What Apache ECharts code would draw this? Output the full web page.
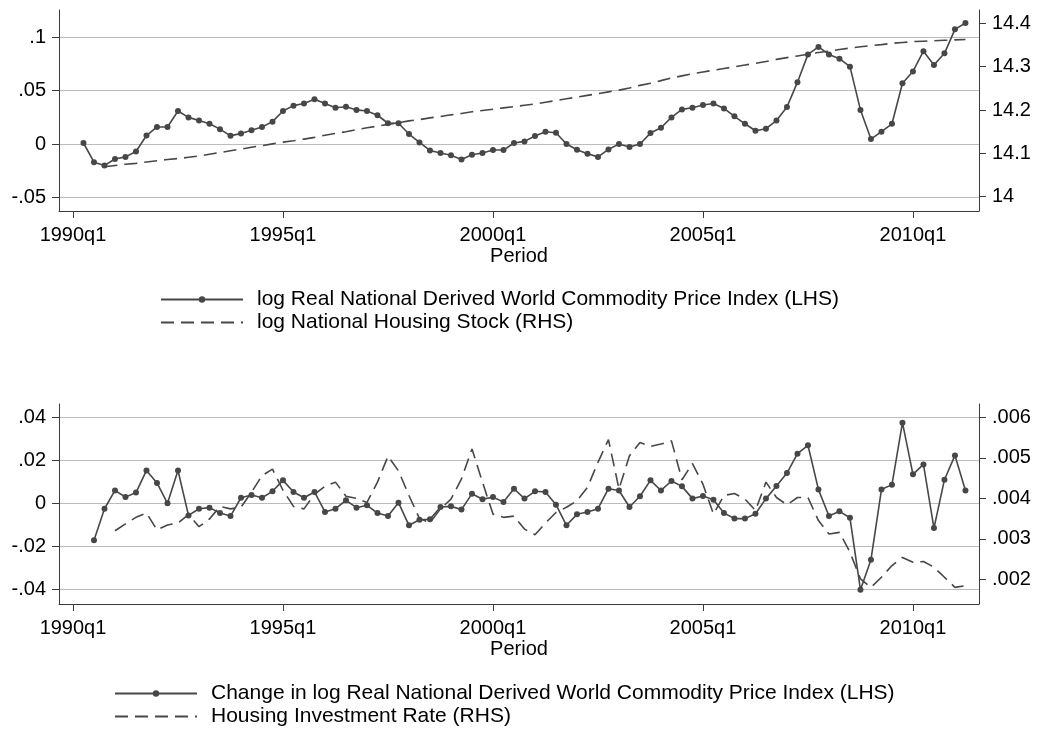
<!DOCTYPE html>
<html>
<head>
<meta charset="utf-8">
<title>Commodity prices and housing</title>
<script src="https://cdn.jsdelivr.net/npm/echarts@6/dist/echarts.min.js"></script>
<style>
  html, body { margin: 0; padding: 0; background: #fff; }
  #chart { width: 1043px; height: 740px; }
</style>
</head>
<body>
<div id="chart"></div>
<script>
// quarter labels, index 0 = 1990q1
const startYear = 1990;
const quarterCount = 86;
const quarters = [];
for (let i = 0; i < quarterCount; i++) {
  quarters.push((startYear + Math.floor(i / 4)) + 'q' + (i % 4 + 1));
}
const xTickLabels = ['1990q1', '1995q1', '2000q1', '2005q1', '2010q1'];

// top panel: log real commodity price index (LHS), from 1990q2
const priceStart = '1990q2';
const logPrice = [
  0.001, -0.017, -0.020, -0.014, -0.012, -0.007, 0.008, 0.016, 0.016, 0.031,
  0.025, 0.022, 0.019, 0.014, 0.0077, 0.010, 0.013, 0.016, 0.021, 0.031,
  0.036, 0.038, 0.042, 0.038, 0.034, 0.035, 0.032, 0.031, 0.027, 0.0195,
  0.0195, 0.0094, 0.0015, -0.006, -0.0083, -0.0105, -0.0144, -0.010, -0.0084, -0.0055,
  -0.0056, 0.001, 0.0025, 0.0075, 0.0116, 0.0106, 0.000, -0.0053, -0.009, -0.012,
  -0.005, 0.000, -0.0028, 0.000, 0.0103, 0.0153, 0.025, 0.0325, 0.034, 0.0366,
  0.038, 0.0334, 0.026, 0.019, 0.0125, 0.0144, 0.022, 0.0347, 0.058, 0.084,
  0.091, 0.084, 0.080, 0.0725, 0.032, 0.0047, 0.0116, 0.019, 0.057, 0.068,
  0.087, 0.074, 0.085, 0.1075, 0.1134
];

// top panel: log national housing stock (RHS), from 1990q4
const stockStart = '1990q4';
const logStock = [
  14.069, 14.072, 14.075, 14.077, 14.080, 14.083, 14.086, 14.088, 14.091, 14.094,
  14.098, 14.102, 14.106, 14.110, 14.114, 14.118, 14.122, 14.126, 14.129, 14.133,
  14.137, 14.142, 14.146, 14.150, 14.155, 14.159, 14.163, 14.167, 14.171, 14.175,
  14.178, 14.182, 14.185, 14.189, 14.192, 14.196, 14.199, 14.202, 14.205, 14.208,
  14.211, 14.214, 14.218, 14.222, 14.226, 14.230, 14.234, 14.238, 14.242, 14.246,
  14.251, 14.257, 14.262, 14.268, 14.274, 14.279, 14.284, 14.288, 14.292, 14.296,
  14.300, 14.304, 14.308, 14.312, 14.317, 14.321, 14.325, 14.329, 14.333, 14.336,
  14.340, 14.343, 14.346, 14.349, 14.351, 14.354, 14.356, 14.358, 14.359, 14.360,
  14.361, 14.362, 14.363
];

// bottom panel: change in log price index (LHS), from 1990q3
const changeStart = '1990q3';
const dLogPrice = [
  -0.0172, -0.0025, 0.006, 0.0029, 0.005, 0.0153, 0.0095, 0.000, 0.0153, -0.0056,
  -0.0025, -0.002, -0.0045, -0.0059, 0.0026, 0.0039, 0.0026, 0.0056, 0.0107, 0.0053,
  0.0026, 0.0053, -0.004, -0.0025, 0.0014, -0.002, -0.0009, -0.0045, -0.0059, 0.0003,
  -0.0102, -0.0076, -0.0074, -0.0017, -0.0014, -0.0029, 0.0045, 0.0019, 0.0029, 0.0006,
  0.0068, 0.0022, 0.0056, 0.0053, -0.0006, -0.0102, -0.0051, -0.004, -0.0025, 0.0068,
  0.006, -0.0017, 0.0033, 0.0107, 0.006, 0.0104, 0.0079, 0.0022, 0.0034, 0.0017,
  -0.0045, -0.0071, -0.0071, -0.0048, 0.0022, 0.0081, 0.0141, 0.0231, 0.027, 0.0064,
  -0.0059, -0.0037, -0.0067, -0.0402, -0.0262, 0.0064, 0.0087, 0.0375, 0.0135, 0.0181,
  -0.0115, 0.011, 0.0223, 0.006
];

// bottom panel: housing investment rate (RHS), from 1991q1
const rateStart = '1991q1';
const investRate = [
  0.0032, 0.00337, 0.00353, 0.00364, 0.00322, 0.00334, 0.00339, 0.0036, 0.0033, 0.00349,
  0.0038, 0.00374, 0.00378, 0.00415, 0.00456, 0.00472, 0.0042, 0.0038, 0.00374, 0.0041,
  0.0043, 0.0044, 0.00405, 0.004, 0.0039, 0.0044, 0.00504, 0.00468, 0.00407, 0.0035,
  0.0034, 0.00374, 0.00398, 0.00448, 0.00522, 0.0044, 0.00361, 0.00353, 0.00356, 0.00324,
  0.0031, 0.00339, 0.00365, 0.00378, 0.00394, 0.00427, 0.00489, 0.00545, 0.00423, 0.00505,
  0.00538, 0.00528, 0.00534, 0.00542, 0.00446, 0.00486, 0.00435, 0.00361, 0.00407, 0.00412,
  0.00398, 0.0037, 0.0044, 0.00402, 0.00384, 0.00402, 0.00402, 0.00345, 0.00312, 0.00316,
  0.00267, 0.00201, 0.0018, 0.00205, 0.00234, 0.00254, 0.00242, 0.00244, 0.0023, 0.00205,
  0.0018, 0.00184
];

// axis ticks
const topLeftTicks = [-0.05, 0, 0.05, 0.1];
const topRightTicks = [14, 14.1, 14.2, 14.3, 14.4];
const botLeftTicks = [-0.04, -0.02, 0, 0.02, 0.04];
const botRightTicks = [0.002, 0.003, 0.004, 0.005, 0.006];

const legendTop = [
  'log Real National Derived World Commodity Price Index (LHS)',
  'log National Housing Stock (RHS)'
];
const legendBottom = [
  'Change in log Real National Derived World Commodity Price Index (LHS)',
  'Housing Investment Rate (RHS)'
];

// ---------------------------------------------------------------
const FONT = '"Liberation Sans", Arial, sans-serif';
const LINE = '#474747';
const AXIS = '#3a3a3a';
const GRID = '#bcbcbc';

function pairs(start, vals) {
  const s = quarters.indexOf(start);
  return vals.map((v, i) => [s + i, v]);
}
// stata style ".05" labels
function dotFmt(v) {
  if (v === 0) return '0';
  return String(v).replace('0.', '.');
}
const xTickValues = xTickLabels.map(l => quarters.indexOf(l));

function xAxis(gridIndex) {
  return {
    gridIndex: gridIndex,
    type: 'value',
    min: -1.333,
    max: 86.29,
    name: 'Period',
    nameLocation: 'middle',
    nameGap: 35,
    nameTextStyle: { fontSize: 20, color: '#000', fontFamily: FONT },
    axisLine: { show: true, onZero: false, lineStyle: { color: AXIS, width: 1 } },
    axisTick: { show: true, length: 7, customValues: xTickValues, lineStyle: { color: AXIS } },
    axisLabel: {
      customValues: xTickValues,
      formatter: v => quarters[Math.round(v)],
      fontSize: 20, color: '#000', fontFamily: FONT, margin: 14
    },
    splitLine: { show: false }
  };
}
function yAxis(gridIndex, side, min, max, ticks, fmt, grid) {
  return {
    gridIndex: gridIndex,
    type: 'value',
    position: side,
    min: min,
    max: max,
    axisLine: { show: true, onZero: false, lineStyle: { color: AXIS, width: 1 } },
    axisTick: { show: true, length: 7, customValues: ticks, lineStyle: { color: AXIS } },
    axisLabel: {
      customValues: ticks,
      formatter: fmt,
      fontSize: 20, color: '#000', fontFamily: FONT, margin: 13
    },
    splitLine: { show: grid, lineStyle: { color: GRID, width: 1 } }
  };
}
function lineSeries(name, x, y, data, dashed) {
  return {
    name: name,
    type: 'line',
    xAxisIndex: x,
    yAxisIndex: y,
    data: data,
    symbol: dashed ? 'none' : 'circle',
    symbolSize: 6,
    showAllSymbol: true,
    lineStyle: dashed
      ? { color: LINE, width: 1.6, type: [13, 7] }
      : { color: LINE, width: 1.6 },
    itemStyle: { color: LINE },
    animation: false
  };
}
function legend(names, left, top) {
  return {
    // dashed entries: keep the dashed key line, hide its marker
    data: [
      { name: names[0] },
      { name: names[1], itemStyle: { color: 'rgba(0,0,0,0)', borderWidth: 0, opacity: 0 } }
    ],
    orient: 'vertical',
    left: left,
    top: top,
    padding: 0,
    itemWidth: 82,
    itemHeight: 8,
    itemGap: 2,
    textStyle: { fontSize: 21, color: '#000', fontFamily: FONT, lineHeight: 21, padding: [0, 0, 0, 9] },
    selectedMode: false
  };
}

const chart = echarts.init(document.getElementById('chart'), null, { renderer: 'canvas' });
chart.setOption({
  backgroundColor: '#fff',
  animation: false,
  grid: [
    { left: 59, width: 920, top: 10, height: 201, containLabel: false, outerBoundsMode: 'none' },
    { left: 59, width: 920, top: 404, height: 200, containLabel: false, outerBoundsMode: 'none' }
  ],
  legend: [
    legend(legendTop, 160, 289),
    legend(legendBottom, 114, 683)
  ],
  xAxis: [xAxis(0), xAxis(1)],
  yAxis: [
    yAxis(0, 'left', -0.0627, 0.1256, topLeftTicks, dotFmt, true),
    yAxis(0, 'right', 13.967, 14.431, topRightTicks, v => String(v), false),
    yAxis(1, 'left', -0.0468, 0.0462, botLeftTicks, dotFmt, true),
    yAxis(1, 'right', 0.00139, 0.00633, botRightTicks, dotFmt, false)
  ],
  series: [
    lineSeries(legendTop[0], 0, 0, pairs(priceStart, logPrice), false),
    lineSeries(legendTop[1], 0, 1, pairs(stockStart, logStock), true),
    lineSeries(legendBottom[0], 1, 2, pairs(changeStart, dLogPrice), false),
    lineSeries(legendBottom[1], 1, 3, pairs(rateStart, investRate), true)
  ]
});
</script>
</body>
</html>
